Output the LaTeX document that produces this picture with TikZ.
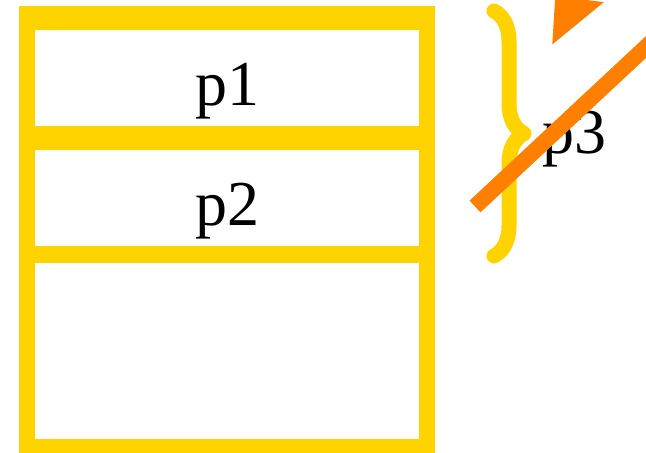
\documentclass[tikz,border=0pt]{standalone}
\usepackage{fontspec}
\setmainfont{Liberation Serif}
\usetikzlibrary{arrows.meta,decorations.pathreplacing,positioning}
\definecolor{frameyellow}{RGB}{255,211,0}
\definecolor{slashorange}{RGB}{255,127,0}

\begin{document}
\begin{tikzpicture}[x=1pt, y=-1pt, font=\fontsize{64}{70}\selectfont,
  cell/.style={fill=white, inner sep=0pt, minimum width=384pt, text height=54pt, text depth=0pt},
  slash/.style={slashorange, line width=16pt}]
  \useasboundingbox (0,0) rectangle (646,453);
  \clip (0,0) rectangle (646,453);
  % yellow frame, the white cells are cut out of it
  \fill[frameyellow] (19,6) rectangle (435,470);
  \node[cell, minimum height=96pt] (p1) at (227,78) {p1};
  \node[cell, minimum height=96pt, below=24pt of p1] (p2) {p2};
  \node[cell, minimum height=176pt, below=16pt of p2] (rest) {};
  % brace over p1 and p2
  \coordinate (bt) at (494,11);
  \coordinate (bb) at (494,256);
  \draw[frameyellow, line width=15pt, line cap=round, line join=round,
    decorate, decoration={brace, amplitude=30pt}] (bt) -- (bb);
  \node[anchor=base west, inner sep=0pt] (p3) at (542,153) {p3};
  % struck through, and an arrow coming in from above
  \coordinate (s0) at (475,206.5);
  \coordinate (s1) at (700,-3.4);
  \draw[slash] (s0) -- (s1);
  \coordinate (a0) at (643,-133);
  \coordinate (a1) at (552,45);
  \draw[slash, -{Stealth[length=60pt, width=50pt, inset=8pt]}] (a0) -- (a1);
\end{tikzpicture}
\end{document}
